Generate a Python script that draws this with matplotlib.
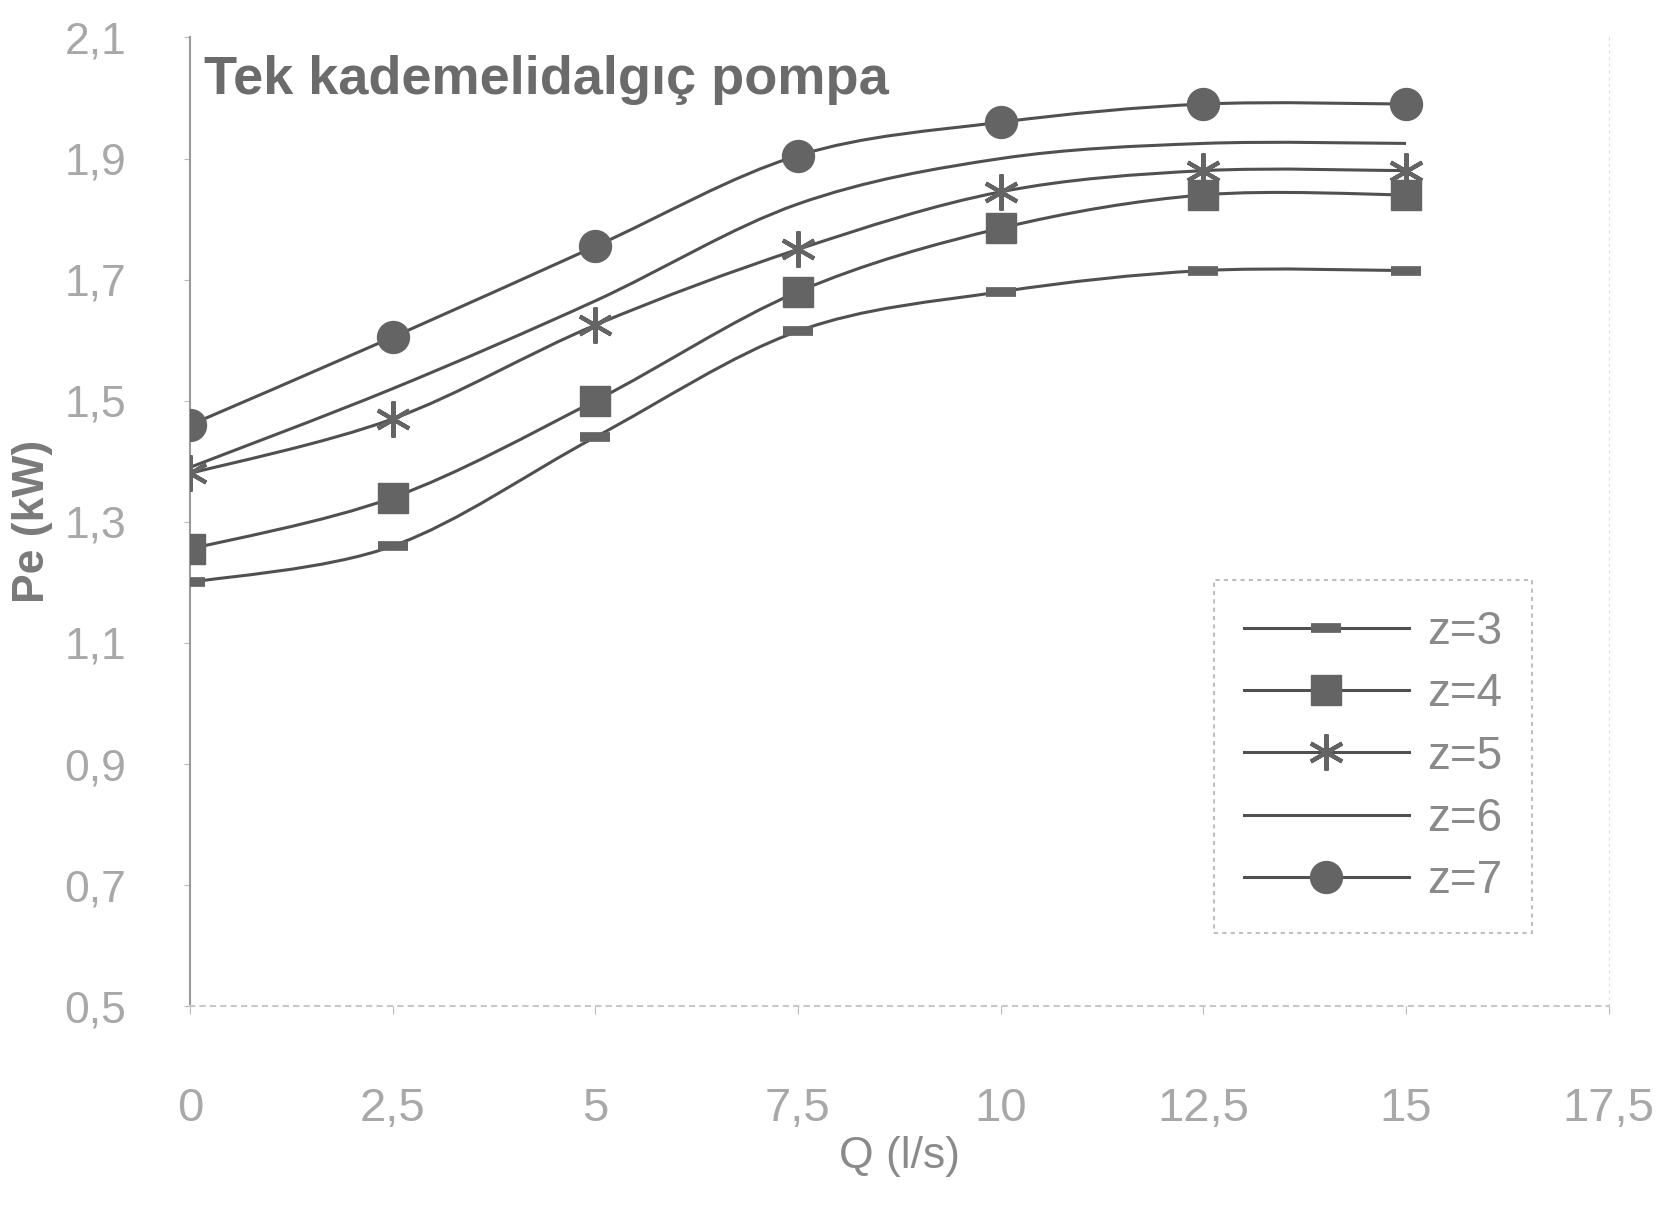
import matplotlib
matplotlib.use("Agg")
import matplotlib.pyplot as plt
import numpy as np
from matplotlib.path import Path
from matplotlib.patches import PathPatch
from matplotlib.lines import Line2D
from matplotlib.ticker import FuncFormatter

# data
q = [0, 2.5, 5, 7.5, 10, 12.5, 15]
z3 = [1.20, 1.26, 1.44, 1.615, 1.68, 1.715, 1.715]
z4 = [1.255, 1.34, 1.50, 1.68, 1.785, 1.84, 1.84]
z5 = [1.38, 1.47, 1.625, 1.75, 1.845, 1.88, 1.88]
z6 = [1.39, 1.52, 1.665, 1.825, 1.90, 1.925, 1.925]
z7 = [1.46, 1.605, 1.755, 1.905, 1.96, 1.99, 1.99]
series_labels = ["z=3", "z=4", "z=5", "z=6", "z=7"]

line_col = "#505050"
mark_col = "#646464"
text_col = "#a8a8a8"

styles = [
    dict(marker="_", markersize=22, markeredgewidth=7),
    dict(marker="s", markersize=21),
    dict(marker=(6, 2, 0), markersize=26, markeredgewidth=3),
    dict(marker="None"),
    dict(marker="o", markersize=23),
]


def smooth_path(xs, ys):
    # excel-style smoothed line: cubic bezier through every point
    pts = np.column_stack([xs, ys]).astype(float)
    n = len(pts)
    verts = [pts[0]]
    codes = [Path.MOVETO]
    for i in range(n - 1):
        p_prev = pts[max(i - 1, 0)]
        p0, p1 = pts[i], pts[i + 1]
        p_next = pts[min(i + 2, n - 1)]
        c1 = p0 + (p1 - p_prev) / 6
        c2 = p1 - (p_next - p0) / 6
        verts += [c1, c2, p1]
        codes += [Path.CURVE4] * 3
    return Path(verts, codes)


fig = plt.figure(figsize=(16.71, 12.08), dpi=100)
ax = fig.add_axes([0.1137, 0.167, 0.849, 0.802])

handles = []
for ys, lab, st in zip([z3, z4, z5, z6, z7], series_labels, styles):
    patch = PathPatch(smooth_path(q, ys), facecolor="none", edgecolor=line_col,
                      lw=2.2, transform=ax.transData, zorder=2)
    ax.add_patch(patch)
    ax.plot(q, ys, linestyle="None", color=mark_col, markerfacecolor=mark_col,
            markeredgecolor=mark_col, zorder=3, **st)
    handles.append(Line2D([], [], color=line_col, lw=2.2, markerfacecolor=mark_col,
                          markeredgecolor=mark_col, label=lab, **st))

ax.set_xlim(0, 17.5)
ax.set_ylim(0.5, 2.1)
ax.set_xticks(np.arange(0, 17.6, 2.5))
ax.set_yticks(np.arange(0.5, 2.11, 0.2))
ax.xaxis.set_major_formatter(FuncFormatter(lambda v, p: f"{v:g}".replace(".", ",")))
ax.yaxis.set_major_formatter(FuncFormatter(lambda v, p: f"{v:.1f}".replace(".", ",")))

ax.tick_params(axis="x", length=6, color="#bbbbbb", pad=52, labelsize=34,
               labelcolor=text_col)
ax.tick_params(axis="y", length=4, color="#bbbbbb", pad=42, labelsize=32,
               labelcolor=text_col)
for lbl in ax.get_xticklabels() + ax.get_yticklabels():
    lbl.set_fontfamily("Liberation Sans")

ax.spines["top"].set_visible(False)
ax.spines["left"].set_color("#9a9a9a")
ax.spines["left"].set_linewidth(1.5)
ax.spines["bottom"].set_color("#c8c8c8")
ax.spines["bottom"].set_linestyle((0, (2, 3)))
ax.spines["bottom"].set_linewidth(1.5)
ax.spines["right"].set_color("#e2e2e2")
ax.spines["right"].set_linestyle((0, (2, 4)))

ax.text(0.01, 0.982, "Tek kademelidalgıç pompa", transform=ax.transAxes,
        fontsize=39, fontweight="bold", color="#6b6b6b", va="top", ha="left",
        family="Liberation Sans")

ax.set_xlabel("Q (l/s)", fontsize=32, color="#8a8a8a", labelpad=4,
              family="Liberation Sans")
ax.set_ylabel("Pe (kW)", fontsize=32, color="#7a7a7a", labelpad=8,
              family="Liberation Sans", fontweight="bold")

leg = ax.legend(handles=handles, loc="lower right", bbox_to_anchor=(0.962, 0.052),
                handlelength=3.6, labelspacing=0.4, borderpad=0.65,
                frameon=True, fancybox=False, markerscale=1.0, handletextpad=0.4,
                prop={"family": "Liberation Sans", "size": 33})
leg.get_frame().set_edgecolor("#b0b0b0")
leg.get_frame().set_linestyle((0, (2, 2)))
leg.get_frame().set_linewidth(1.5)
for t in leg.get_texts():
    t.set_color("#8a8a8a")

fig.savefig("out.png", dpi=100, facecolor="white")
